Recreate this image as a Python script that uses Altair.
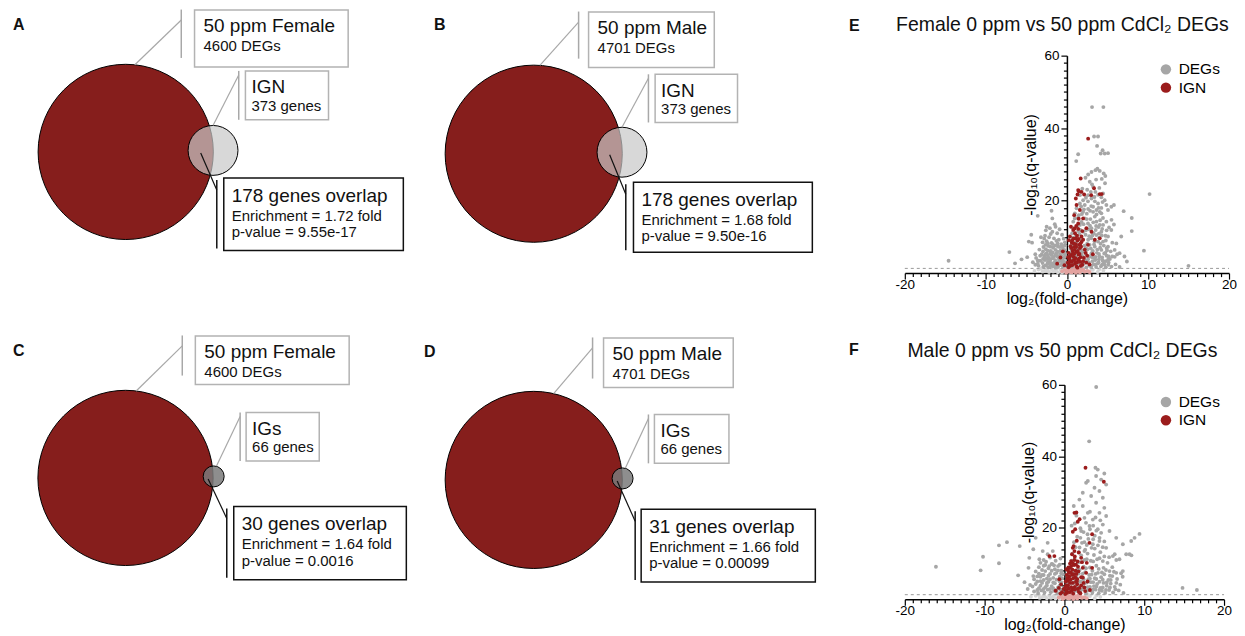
import math
import pandas as pd
import altair as alt

FONT = "Liberation Sans"

# ---------------- Venn data ----------------
panel_labels = ["A", "B", "C", "D"]
deg_set_names = ["50 ppm Female", "50 ppm Male", "50 ppm Female", "50 ppm Male"]
deg_counts = [4600, 4701, 4600, 4701]
gene_set_names = ["IGN", "IGN", "IGs", "IGs"]
gene_set_counts = [373, 373, 66, 66]
overlap_counts = [178, 178, 30, 31]
enrichment_fold = ["1.72", "1.68", "1.64", "1.66"]
p_values = ["9.55e-17", "9.50e-16", "0.0016", "0.00099"]

# ---------------- Volcano data ----------------
volcano_labels = ["E", "F"]
volcano_titles = ["Female 0 ppm vs 50 ppm CdCl\u2082 DEGs", "Male 0 ppm vs 50 ppm CdCl\u2082 DEGs"]
legend_names = ["DEGs", "IGN"]

E_DEG = [(-14.6,3.4),(-7.1,5.8),(-6.4,2.7),(-5.6,3.8),(-4.9,4.4),(-3.9,5.2),(-4.7,8.7),(-4.4,10.6),(-3.6,15.8),(-1.9,17.2),(-1.8,15.1),(-2.1,12.4),(-1.4,12.8),(-1.8,11.4),(-4.3,8.4),
 (-2.8,9.5),(-2.5,8.8),(-2.2,9.9),(-1.9,8.3),(-1.6,9.6),(-1.3,8.9),(-1.0,9.2),(-0.7,8.0),(-0.4,9.5),(-2.9,7.2),(-2.6,6.6),(-2.3,7.5),(-2.0,6.1),(-1.7,7.0),(-1.4,6.4),(-1.1,7.3),(-0.8,6.2),(-0.5,6.9),(-0.2,7.6),(-3.1,5.2),(-2.8,4.6),(-2.5,5.5),(-2.2,4.2),(-1.9,5.0),(-1.6,4.5),(-1.3,5.4),(-1.0,4.0),(-0.7,4.8),(-0.4,5.6),(-3.3,3.4),(-3.0,2.8),(-2.7,3.6),(-2.4,2.5),(-2.1,3.2),(-1.8,2.2),(-1.5,3.0),(-1.2,2.4),(-0.9,3.3),(-0.6,2.6),(-0.3,3.1),(-3.5,2.0),(-2.9,1.8),(-2.3,1.6),(-1.7,1.9),(-1.1,1.7),(-0.5,1.8),(-2.6,11.8),(-1.2,11.0),(-0.6,10.6),(-2.0,10.8),(-3.4,6.5),(-3.8,4.2),(-4.2,3.0),(-2.5,12.8),(-1.5,13.5),(-3.0,8.5),(-2.7,10.3),(-0.9,12.1),(-3.6,2.6),(-2.0,2.6),(-1.4,1.5),(-0.2,2.4),(-0.3,4.4),(-3.2,9.9),(-2.4,3.9),(-1.6,2.8),
 (-2.65,2.1),(-2.35,3.0),(-2.05,1.9),(-1.75,2.6),(-1.45,2.1),(-1.15,3.0),(-0.85,2.2),(-0.55,3.4),(-0.25,2.0),(-2.95,3.9),(-2.65,4.2),(-2.35,4.8),(-2.05,3.7),(-1.75,4.1),(-1.45,3.6),(-1.15,4.6),(-0.85,4.2),(-0.55,4.0),(-0.25,5.1),(-2.95,6.0),(-2.65,5.2),(-2.35,6.2),(-2.05,5.4),(-1.75,5.7),(-1.45,5.0),(-1.15,5.9),(-0.85,5.3),(-0.55,5.8),(-0.25,6.3),(-2.65,7.8),(-2.35,8.2),(-2.05,7.3),(-1.75,8.0),(-1.45,7.6),(-1.15,8.2),(-0.85,7.2),(-0.55,7.6),(-0.25,8.5),(-3.3,4.8),(-3.6,3.5),(-3.9,2.3),
 (0.3,2.0),(0.6,1.8),(0.9,2.5),(1.2,1.7),(1.5,2.8),(1.8,1.9),(2.1,2.6),(2.4,1.6),(2.7,2.9),(3.0,1.8),(3.3,2.4),(3.6,1.7),(3.9,3.0),(4.2,1.9),(4.5,2.6),(4.8,1.6),(5.1,2.3),(5.5,1.8),(6.0,2.4),(6.5,1.7),(0.5,3.5),(1.0,4.2),(1.4,3.9),(2.6,3.8),(3.1,4.4),(3.5,3.6),(4.0,4.6),(4.4,3.5),(4.9,4.8),(5.3,3.9),(5.9,4.5),(0.8,5.9),(1.3,6.5),(1.9,5.8),(2.3,6.9),(2.8,7.8),(3.2,6.1),(3.7,5.6),(4.1,7.0),(4.6,5.4),(5.4,6.0),(6.2,5.2),(0.6,7.8),(1.1,8.5),(1.7,9.4),(2.5,8.1),(3.0,9.6),(3.4,8.8),(4.0,9.8),(4.8,9.0),(5.6,8.4),(1.4,11.6),(2.3,10.6),(2.7,12.1),(3.3,11.0),(3.9,12.7),(4.3,10.4),(4.9,11.8),(1.8,14.1),(2.9,14.9),(3.6,13.0),(4.1,14.6),(5.2,12.6),(2.1,17.6),(3.0,18.5),(3.9,18.0),(4.4,19.6),(2.6,19.8),(3.4,21.0),(4.0,23.5),(4.7,24.8),(3.1,24.5),(2.5,23.0),(4.3,26.0),(3.6,25.8),(1.6,21.5),(1.9,23.3),
 (0.35,2.6),(0.75,3.0),(1.15,2.2),(1.55,3.3),(1.95,2.3),(2.35,3.4),(2.75,2.3),(3.15,3.3),(3.55,2.4),(3.95,3.8),(4.35,2.4),(4.75,3.3),(5.15,2.9),(0.35,4.9),(0.75,5.2),(1.15,4.8),(1.55,5.5),(1.95,4.6),(2.35,5.3),(2.75,4.6),(3.15,5.0),(3.55,4.5),(3.95,5.3),(4.35,4.3),(4.75,5.6),(5.15,4.6),(0.55,6.6),(0.95,7.3),(1.35,7.6),(1.75,6.4),(2.15,7.6),(2.55,6.6),(2.95,6.8),(3.35,7.9),(3.75,6.5),(4.15,8.1),(4.55,7.6),(4.95,6.3),(0.75,9.8),(1.15,10.4),(1.55,10.8),(1.95,9.3),(2.35,11.8),(2.75,10.2),(3.15,10.4),(3.55,11.9),(3.95,10.9),(4.35,12.2),(4.75,10.3),(1.25,12.8),(1.65,11.9),(2.05,13.5),(2.45,14.9),(2.85,13.1),(3.25,14.0),(3.65,16.2),(4.05,13.3),(4.45,15.2),(1.35,15.2),(1.85,16.3),(2.45,16.4),(2.85,17.2),(3.65,17.4),(4.25,18.0),(3.45,19.8),(2.35,20.8),(3.85,21.6),(4.25,20.9),(2.95,22.4),(1.75,18.4),
 (2.82,25.2),(3.23,23.8),(3.52,22.4),(2.62,21.5),(3.03,20.6),(4.46,22.0),(4.66,20.1),(3.84,19.2),(3.23,18.3),(2.62,17.7),(2.0,16.9),(1.47,16.0),(0.98,15.1),(0.78,14.2),(2.2,15.1),(3.44,15.6),(4.25,16.5),(4.87,14.2),(5.48,11.9),(5.07,10.1),(4.25,11.4),(3.03,12.4),(2.0,11.4),(1.19,10.1),(0.57,8.7),(2.62,9.2),(3.84,8.7),(5.07,7.3),(5.89,6.4),(6.5,5.5),(7.1,4.6),(4.25,6.4),(3.03,5.5),(1.8,5.0),(0.78,4.1),(3.44,4.1),(5.07,3.7),(2.2,3.2),(3.84,2.7),(1.19,2.3),(2.82,2.1),(4.66,2.3),(1.6,7.3),(2.4,6.4),(3.44,7.3),(4.46,8.7),(3.64,10.5),(2.6,13.7),(1.6,13.3),(3.64,14.2),(4.46,13.3),(5.07,17.4),(5.48,18.3),(4.87,18.8),(4.05,16.9),(3.23,16.9),(2.2,18.8),(2.0,20.1),(1.6,19.2),(1.19,17.9),(0.98,16.5),(0.78,12.4),(0.65,11.0),(0.49,6.9),(0.45,5.5),(0.4,4.6),(0.37,3.2),
 (3.1,45.8),(4.5,45.8),(3.35,37.7),(3.84,37.7),(3.72,35.1),(1.39,32.8),(4.17,33.0),(4.66,33.0),(5.07,33.1),(4.4,33.9),(1.15,30.9),(2.29,26.3),(2.62,27.2),(3.03,27.9),(3.52,28.4),(4.05,28.2),(4.54,27.5),(4.74,26.8),(3.76,28.8),
 (15.0,2.0),(10.2,21.8),(9.5,6.2),(8.0,15.2),(8.0,11.6),(7.0,17.1),(5.8,18.8),(5.5,14.7),(6.7,10.1),(5.6,4.6),(4.9,6.9),(7.4,3.2),(6.1,8.2),(5.8,13.4)]

E_IGN = [(2.62,37.1),(1.8,22.4),(1.47,22.6),(1.31,21.7),(2.13,21.7),(1.1,20.6),(4.05,21.8),(4.29,21.8),(3.35,23.4),(1.7,26.1),(1.39,22.9),(3.0,21.5),(1.19,18.8),(1.6,17.4),(0.9,16.0),(2.0,15.1),(1.39,13.7),(2.4,12.4),(0.78,11.9),(3.03,11.4),(3.44,9.2),(1.8,10.1),(4.05,9.6),(0.37,10.1),
 (0.4,2.0),(0.6,3.1),(0.8,4.5),(1.0,2.6),(1.2,5.8),(1.4,3.6),(1.6,6.9),(1.1,8.0),(0.7,6.1),(0.9,7.2),(1.3,9.0),(1.7,4.4),(1.9,2.3),(0.5,5.0),(1.5,7.8),(0.3,3.8),(1.8,8.6),(2.2,6.5),(2.5,4.8),(2.0,3.3),(0.8,9.5),(1.2,1.8),(0.2,1.6),(2.8,2.4),(-0.3,2.2),(-0.8,4.3),(-1.2,2.6),(-0.5,6.0),(1.0,11.0),(1.4,12.2),(2.6,7.8),(3.2,5.2),(0.6,8.4),(1.5,4.0),(1.1,3.1),(0.5,12.8),(0.9,5.3),(1.3,1.5),(0.2,5.6),(1.7,2.0),
 (0.25,2.5),(0.45,3.3),(0.65,2.2),(0.85,3.6),(1.05,4.1),(1.25,2.9),(1.45,5.1),(1.65,3.1),(0.35,4.6),(0.55,6.9),(0.75,5.4),(0.95,6.4),(1.15,7.2),(1.35,6.1),(1.55,5.3),(1.75,7.3),(0.45,7.4),(0.65,9.0),(0.85,8.2),(1.05,9.6),(1.25,10.3),(1.45,9.4),(1.65,8.1),(0.95,12.3),(1.15,13.0),(0.25,9.1),(0.15,4.4),(0.1,2.9),(2.1,4.2),(2.3,5.6),(2.4,2.9),(2.0,9.2),(1.9,11.6),(1.45,15.0)]

E_NS = [(-4.0,0.6),(-3.5,1.0),(-3.0,0.4),(-2.6,0.9),(-2.2,0.3),(-1.9,1.1),(-1.5,0.6),(-1.1,0.2),(-0.8,0.9),(-0.4,0.5),(0.0,1.0),(0.5,0.2),(1.2,0.6),(2.0,1.1),(2.6,0.5),(3.2,0.9),(3.8,0.3),(4.5,0.7),(-3.2,1.2),(-2.4,0.7),(-1.3,1.0),(-0.6,0.1),(3.0,1.2),(4.0,1.1),(-1.7,0.4),(-2.8,0.6)]

E_NS_IGN = [(-0.6,0.5),(-0.3,0.9),(0.0,0.3),(0.2,0.7),(0.4,1.0),(0.6,0.2),(0.8,0.6),(1.0,0.9),(1.2,0.4),(1.4,0.8),(1.6,0.2),(1.8,0.7),(2.0,1.0),(2.2,0.4),(2.5,0.6),(0.1,1.2),(0.9,1.2),(1.5,0.5),(-0.1,0.1),(0.7,0.9),(2.8,0.3),(1.1,0.1),(0.3,0.4),(1.7,1.1)]

F_DEG = [(-16.1,9.1),(-10.5,8.1),(-10.2,11.9),(-8.2,10.1),(-8.2,15.1),(-7.2,16.0),(-5.6,14.9),(-5.8,6.7),(-4.5,8.8),(-4.4,11.6),(-3.9,14.0),(-3.6,17.2),(-2.1,15.8),(-2.1,12.6),(-1.5,9.8),(-2.72,13.5),(-3.14,11.2),(-3.0,10.2),(-2.6,11.0),(-1.46,13.5),
 (-3.6,7.8),(-3.2,9.0),(-2.8,8.2),(-2.4,9.6),(-2.0,8.7),(-1.6,9.9),(-1.2,8.4),(-0.8,9.3),(-0.4,8.0),(-3.8,5.6),(-3.4,6.4),(-3.0,5.1),(-2.6,6.8),(-2.2,5.8),(-1.8,7.1),(-1.4,6.0),(-1.0,7.4),(-0.6,6.3),(-0.2,7.0),(-4.0,3.6),(-3.6,4.3),(-3.2,3.1),(-2.8,4.6),(-2.4,3.4),(-2.0,4.9),(-1.6,3.7),(-1.2,4.5),(-0.8,3.3),(-0.4,4.8),(-3.8,2.2),(-3.3,1.8),(-2.9,2.5),(-2.5,1.9),(-2.1,2.7),(-1.7,2.0),(-1.3,2.4),(-0.9,1.8),(-0.5,2.6),(-0.2,1.9),(-4.6,2.9),(-5.0,4.8),(-2.3,10.5),(-1.1,10.8),(-0.5,11.4),(-1.8,11.7),
 (-3.4,2.6),(-3.0,3.8),(-2.6,2.9),(-2.2,3.9),(-1.8,2.9),(-1.4,3.1),(-1.0,2.6),(-0.6,3.8),(-0.3,2.7),(-3.4,5.0),(-3.0,6.3),(-2.6,5.4),(-2.2,4.6),(-1.8,5.6),(-1.4,4.7),(-1.0,5.5),(-0.6,5.0),(-0.3,5.9),(-3.2,7.2),(-2.8,6.8),(-2.4,7.9),(-2.0,6.6),(-1.6,8.0),(-1.2,7.1),(-0.8,8.1),(-0.4,7.3),(-2.6,9.4),(-1.9,9.3),(-1.3,9.5),(-0.6,9.7),(-4.3,4.0),(-3.9,6.5),
 (0.3,2.0),(0.7,2.6),(1.1,1.7),(1.5,2.4),(1.9,1.8),(2.3,2.8),(2.7,1.6),(3.1,2.5),(3.5,1.9),(3.9,2.7),(4.3,1.7),(4.7,2.4),(5.1,1.8),(5.6,2.6),(6.1,1.9),(6.8,2.5),(7.4,1.8),
 (0.5,3.6),(0.9,4.4),(1.3,3.3),(1.7,4.7),(2.1,3.9),(2.5,4.5),(2.9,3.4),(3.3,4.8),(3.7,3.7),(4.1,4.3),(4.5,3.2),(4.9,4.6),(5.3,3.8),(5.8,4.4),(6.3,3.5),(7.0,4.1),
 (0.6,5.8),(1.0,6.6),(1.4,5.3),(1.8,7.2),(2.2,6.1),(2.6,7.6),(3.0,5.6),(3.4,6.9),(3.8,5.9),(4.2,7.4),(4.6,6.2),(5.0,7.0),(5.5,5.4),(6.0,6.5),(6.6,5.7),(7.3,6.3),
 (0.8,8.6),(1.2,9.8),(1.6,8.3),(2.0,10.4),(2.4,9.1),(2.8,11.2),(3.2,8.9),(3.6,10.6),(4.0,9.4),(4.4,11.5),(4.9,8.8),(5.4,10.2),(6.0,9.0),(6.5,11.0),
 (1.0,12.8),(1.4,14.6),(1.8,13.2),(2.2,15.8),(2.6,13.9),(3.0,16.9),(3.4,14.4),(3.8,17.8),(4.2,15.1),(4.6,18.6),(5.0,16.2),(1.6,17.5),(2.4,18.8),(3.2,19.6),(4.0,19.2),(2.0,19.9),(1.2,16.0),(1.3,21.2),(1.5,23.4),(0.9,20.6),
 (0.4,2.9),(0.8,3.2),(1.2,2.3),(1.6,3.4),(2.0,2.4),(2.4,3.5),(2.8,2.4),(3.2,3.5),(3.6,2.8),(4.0,3.6),(4.4,2.6),(4.8,3.3),(5.2,2.6),(5.7,3.3),(6.4,2.8),(0.4,4.7),(0.8,5.3),(1.2,4.6),(1.6,5.8),(2.0,5.0),(2.4,5.6),(2.8,4.7),(3.2,5.8),(3.6,4.8),(4.0,5.7),(4.4,4.9),(4.8,5.5),(5.3,4.7),(5.8,5.4),(6.5,4.6),(0.7,7.2),(1.1,7.8),(1.5,6.5),(1.9,8.2),(2.3,7.2),(2.7,8.7),(3.1,6.8),(3.5,8.0),(3.9,7.1),(4.3,8.5),(4.7,7.5),(5.2,8.2),(5.7,6.6),(6.2,7.7),(0.9,10.8),(1.3,11.2),(1.7,10.3),(2.1,12.3),(2.5,11.0),(2.9,12.8),(3.3,10.8),(3.7,12.4),(4.1,11.2),(4.5,13.2),(5.0,12.0),(5.6,11.8),(1.9,14.5),(2.5,16.0),(2.8,15.2),(3.6,16.8),(4.4,17.2),(3.8,14.2),(4.8,14.6),(2.9,18.2),(3.6,20.6),(2.7,21.4),(3.9,22.9),(4.5,22.1),(3.2,24.5),(2.0,17.2),
 (3.89,36.8),(4.18,36.3),(5.0,35.2),(3.97,34.5),(4.6,33.5),(2.93,33.1),(2.72,32.6),(5.23,32.1),(3.77,31.2),(4.39,30.3),(2.3,29.8),(3.35,28.9),(4.81,28.4),(1.88,27.9),(3.97,27.0),(5.0,25.6),(2.3,26.1),(1.17,26.1),(2.93,24.2),(4.39,24.2),(2.51,22.8),(3.56,22.3),(5.23,23.3),(4.81,20.9),(3.14,20.5),(4.18,19.6),(2.1,19.1),(5.65,19.1),(6.49,17.2),(9.41,18.3),(8.79,17.2),(8.37,16.3),(7.32,15.4),(7.74,12.6),(6.9,11.2),(6.07,12.1),(5.23,14.4),(4.39,16.3),(3.56,15.4),(2.51,13.5),(4.81,10.7),(5.65,7.9),(6.49,7.4),(7.32,7.9),(8.16,12.6),
 (8.4,12.3),(6.3,12.6),(7.1,7.3),(14.8,3.2),(16.6,2.6),(3.98,59.4),(3.1,44.2)]

F_IGN = [(2.64,36.8),(4.94,32.9),(1.26,24.2),(1.5,24.3),(1.67,21.7),(1.9,22.4),(1.05,18.9),(3.47,18.2),(3.14,15.8),(1.05,14.4),(-1.88,12.1),(-1.26,12.1),(1.26,13.5),(2.1,11.6),(0.84,10.7),(3.47,8.8),(2.72,7.4),(-0.63,5.6),(-0.42,4.2),
 (0.3,1.8),(0.5,3.0),(0.7,4.6),(0.9,2.4),(1.1,5.9),(1.3,3.5),(1.5,7.1),(1.0,8.3),(0.6,6.4),(0.8,7.6),(1.2,9.6),(1.6,4.2),(1.8,2.1),(0.4,5.2),(1.4,8.0),(0.2,3.9),(1.7,9.1),(2.1,6.2),(2.4,4.6),(1.9,3.2),(0.7,10.0),(1.1,1.6),(0.1,1.5),(2.6,2.3),(-0.3,2.0),(-0.7,3.2),(-1.1,2.4),(-0.5,1.6),(1.3,12.0),(2.3,8.8),(2.9,5.0),(0.5,8.9),(1.6,5.6),(1.0,3.0),(3.2,2.6),(2.0,1.7),(-0.1,2.9),(0.3,6.8),(2.8,10.2),
 (0.25,2.4),(0.45,3.9),(0.65,2.0),(0.85,3.4),(1.05,4.6),(1.25,2.7),(1.45,4.9),(1.65,2.9),(0.35,5.9),(0.55,7.4),(0.75,5.5),(0.95,6.9),(1.15,7.0),(1.35,6.2),(1.55,5.0),(1.75,7.8),(0.45,8.1),(0.65,8.8),(0.85,9.3),(1.05,10.1),(1.25,11.0),(1.45,9.7),(1.65,10.6),(0.95,12.6),(1.15,14.9),(0.25,8.4),(0.15,5.0),(0.1,3.3),(2.1,3.9),(2.3,6.1),(2.5,3.3),(2.2,10.4),(1.8,13.1),(1.55,16.4),(1.35,19.6)]

F_NS = [(-4.2,0.7),(-3.6,1.0),(-3.1,0.4),(-2.6,0.9),(-2.2,0.3),(-1.9,1.1),(-1.5,0.6),(-1.1,0.2),(-0.8,0.9),(-0.4,0.5),(0.0,1.0),(0.5,0.2),(1.2,0.6),(2.0,1.1),(2.6,0.5),(3.2,0.9),(3.8,0.3),(4.5,0.7),(-3.2,1.2),(-2.4,0.7),(-1.3,1.0),(-0.6,0.1),(3.0,1.2),(4.0,1.1),(-1.7,0.4),(-2.8,0.6)]

F_NS_IGN = [(-0.7,0.5),(-0.4,0.9),(-0.1,0.3),(0.2,0.7),(0.4,1.0),(0.6,0.2),(0.8,0.6),(1.0,0.9),(1.2,0.4),(1.4,0.8),(1.6,0.2),(1.8,0.7),(2.0,1.0),(2.2,0.4),(2.5,0.6),(0.1,1.2),(0.9,1.2),(1.5,0.5),(-0.2,0.1),(0.7,0.9),(2.8,0.3),(1.1,0.1),(0.3,0.4),(1.7,1.1)]

Q_THRESHOLD = 1.3  # -log10(0.05)

# ---------------- layout (page pixels) ----------------
VW, VH = 899, 600
venn_centres = [(126, 149.5), (535, 151.3), (125.8, 476.3), (535, 478.3)]
title_boxes = [(69, 223, -142.2, -85.2, 55.7), (55, 181, -142, -86.3, 45),
               (70, 224.2, -142.3, -93.6, 56.9), (70, 200, -142.3, -92.6, 59)]
set_boxes = [(120, 203.3, -81.2, -32.2, 113.3), (121.7, 204.3, -79.6, -31.3, 115),
             (120.9, 194.2, -65.6, -17, 114.9), (121, 195.7, -65.6, -16.6, 115)]
overlap_boxes = [(98.3, 278.3, 26.2, 98.8, 91.3), (100, 279.3, 28.7, 98.7, 92.3),
                 (108.5, 281.5, 28.7, 102, 101.5), (107.7, 282.3, 29.4, 102.4, 101.7)]
title_leader_deg = [6, 4, 7, 13]
set_leader_deg = [0, 0, 15, 15]
letter_pos = [(13, 27.5), (435, 27.5), (13, 354), (425, 355), (851, 28), (851, 353)]
vtitle_pos = [(1065, 28.3), (1065, 355.5)]

RED_BIG = "#861e1c"
SMALL_FILL = ["#c8c8c8", "#c8c8c8", "#7a7a7a", "#7a7a7a"]
SMALL_OPAC = [0.7, 0.7, 0.85, 0.85]
BOX_GRAY = "#b3b3b3"
LINE_GRAY = "#a8a8a8"
INK = "#111111"
DEG_GRAY = "#a6a6a6"
IGN_RED = "#9b1c1c"
NS_GRAY = "#d4d4d4"
NS_PINK = "#e3a3a0"

K = math.pi * 88.3 ** 2 / 4650.0


def radius(n):
    return math.sqrt(n * K / math.pi)


def lens_area(d, r1, r2):
    a1 = r1 * r1 * math.acos((d * d + r1 * r1 - r2 * r2) / (2 * d * r1))
    a2 = r2 * r2 * math.acos((d * d + r2 * r2 - r1 * r1) / (2 * d * r2))
    a3 = 0.5 * math.sqrt((-d + r1 + r2) * (d + r1 - r2) * (d - r1 + r2) * (d + r1 + r2))
    return a1 + a2 - a3


def solve_distance(r1, r2, area):
    lo, hi = r1 - r2 + 1e-6, r1 + r2 - 1e-6
    for _ in range(80):
        mid = (lo + hi) / 2
        if lens_area(mid, r1, r2) > area:
            lo = mid
        else:
            hi = mid
    return (lo + hi) / 2


circles, rects, lines, texts, bolds = [], [], [], [], []
for i in range(4):
    cx, cy = venn_centres[i]
    r1, r2 = radius(deg_counts[i]), radius(gene_set_counts[i])
    d = solve_distance(r1, r2, overlap_counts[i] * K)
    sx, sy = cx + d, cy - 1.5
    circles.append(dict(x=cx, y=cy, s=(2 * r1) ** 2, fill=RED_BIG, fo=1.0))
    circles.append(dict(x=sx, y=sy, s=(2 * r2) ** 2, fill=SMALL_FILL[i], fo=SMALL_OPAC[i]))

    x0, x1, y0, y1, bx = title_boxes[i]
    rects.append(dict(x=cx + x0, x2=cx + x1, y=cy + y0, y2=cy + y1, col=BOX_GRAY))
    lines.append(dict(x=cx + bx, y=cy + y0 - 0.5, x2=cx + bx, y2=cy + y1 - 9, col=LINE_GRAY, w=1.5))
    th = math.radians(title_leader_deg[i])
    lines.append(dict(x=cx + r1 * math.sin(th), y=cy - r1 * math.cos(th), x2=cx + bx, y2=cy + y0 + 10, col=LINE_GRAY, w=1.2))
    texts.append(dict(x=cx + x0 + 9, y=cy + y0 + 22, t=deg_set_names[i], fs=19))
    texts.append(dict(x=cx + x0 + 9, y=cy + y0 + 41, t=f"{deg_counts[i]} DEGs", fs=15))

    x0, x1, y0, y1, bx = set_boxes[i]
    rects.append(dict(x=cx + x0, x2=cx + x1, y=cy + y0, y2=cy + y1, col=BOX_GRAY))
    lines.append(dict(x=cx + bx, y=cy + y0, x2=cx + bx, y2=cy + y1, col=LINE_GRAY, w=1.5))
    th = math.radians(set_leader_deg[i])
    lines.append(dict(x=sx + r2 * math.sin(th), y=sy - r2 * math.cos(th), x2=cx + bx, y2=cy + y0 + 4, col=LINE_GRAY, w=1.2))
    texts.append(dict(x=cx + x0 + 6, y=cy + y0 + 22.4, t=gene_set_names[i], fs=19))
    texts.append(dict(x=cx + x0 + 6, y=cy + y0 + 40, t=f"{gene_set_counts[i]} genes", fs=15))

    x0, x1, y0, y1, bx = overlap_boxes[i]
    rects.append(dict(x=cx + x0, x2=cx + x1, y=cy + y0, y2=cy + y1, col=INK))
    lines.append(dict(x=cx + bx, y=cy + y0 + 2, x2=cx + bx, y2=cy + y1 - 2, col=INK, w=1.5))
    lx = ((cx + r1) + (sx - r2)) / 2
    lines.append(dict(x=lx, y=cy + 1, x2=cx + bx, y2=cy + y0 + 12, col=INK, w=1.2))
    texts.append(dict(x=cx + x0 + 8, y=cy + y0 + 23.6, t=f"{overlap_counts[i]} genes overlap", fs=19))
    texts.append(dict(x=cx + x0 + 8, y=cy + y0 + 42.6, t=f"Enrichment = {enrichment_fold[i]} fold", fs=15))
    texts.append(dict(x=cx + x0 + 8, y=cy + y0 + 59.3, t=f"p-value = {p_values[i]}", fs=15))

for lab, (lx, ly) in zip(panel_labels + volcano_labels, letter_pos):
    bolds.append(dict(x=lx, y=ly, t=lab))
vtitles = [dict(x=px, y=py, t=t) for t, (px, py) in zip(volcano_titles, vtitle_pos)]

XS = alt.Scale(domain=[8, 8 + VW], nice=False, zero=False)
YS = alt.Scale(domain=[8, 8 + VH], nice=False, zero=False, reverse=True)
PX = alt.X("x:Q", scale=XS, axis=None)
PY = alt.Y("y:Q", scale=YS, axis=None)

c_layer = alt.Chart(pd.DataFrame(circles)).mark_circle(opacity=1, stroke="black", strokeWidth=1, strokeOpacity=1).encode(
    x=PX, y=PY, size=alt.Size("s:Q", scale=None), color=alt.Color("fill:N", scale=None),
    fillOpacity=alt.FillOpacity("fo:Q", scale=None))
r_layer = alt.Chart(pd.DataFrame(rects)).mark_rect(fillOpacity=0, strokeWidth=1.5).encode(
    x=PX, x2="x2:Q", y=PY, y2="y2:Q", stroke=alt.Stroke("col:N", scale=None))
l_layer = alt.Chart(pd.DataFrame(lines)).mark_rule().encode(
    x=PX, x2="x2:Q", y=PY, y2="y2:Q", stroke=alt.Stroke("col:N", scale=None),
    strokeWidth=alt.StrokeWidth("w:Q", scale=None))
t_layer = alt.Chart(pd.DataFrame(texts)).mark_text(align="left", baseline="alphabetic", font=FONT, color=INK).encode(
    x=PX, y=PY, text="t:N", size=alt.Size("fs:Q", scale=None))
b_layer = alt.Chart(pd.DataFrame(bolds)).mark_text(align="left", baseline="alphabetic", font=FONT, fontWeight="bold",
                                                   size=16, color=INK).encode(x=PX, y=PY, text="t:N")
vt_layer = alt.Chart(pd.DataFrame(vtitles)).mark_text(align="center", baseline="alphabetic", font=FONT, size=19.5,
                                                      color=INK).encode(x=PX, y=PY, text="t:N")

canvas = alt.layer(c_layer, l_layer, r_layer, t_layer, b_layer, vt_layer).properties(width=VW, height=VH)


def pts(lst, grp=None):
    df = pd.DataFrame(lst, columns=["x", "y"])
    if grp is not None:
        df["grp"] = grp
    return df


PT = 15


def volcano(deg, ign, ns, ns_ign, w, h, ly):
    xs = alt.Scale(domain=[-20, 20], nice=False, zero=False)
    ys = alt.Scale(domain=[0, 60], nice=False, zero=False)
    common = dict(grid=False, domainColor="black", domainWidth=1.5, tickColor="black", tickWidth=1.2,
                  labelFont=FONT, labelFontSize=13.5, labelColor="black", labelOverlap=False, labelFlush=False,
                  titleFont=FONT, titleFontSize=16, titleFontWeight="normal", titleColor="black")
    xaxis = alt.Axis(values=list(range(-20, 21)),
                     labelExpr="datum.value % 10 === 0 ? '' + datum.value : ''",
                     tickSize={"condition": {"test": "datum.value % 10 === 0", "value": 6}, "value": 3.5},
                     labelPadding=-2, titlePadding=0, **common)
    yaxis = alt.Axis(values=list(range(0, 61, 2)),
                     labelExpr="datum.value % 20 === 0 && datum.value > 0 ? '' + datum.value : ''",
                     tickSize={"condition": {"test": "datum.value % 20 === 0", "value": 6}, "value": 3.5},
                     offset=-w / 2, labelPadding=2, titlePadding=5, **common)
    X = alt.X("x:Q", scale=xs, axis=xaxis, title="log\u2082(fold-change)")
    Y = alt.Y("y:Q", scale=ys, axis=yaxis, title="-log\u2081\u2080(q-value)")
    l_ns = alt.Chart(pts(ns)).mark_circle(size=PT, opacity=1, color=NS_GRAY).encode(x=X, y=Y)
    l_nsi = alt.Chart(pts(ns_ign)).mark_circle(size=PT, opacity=1, color=NS_PINK).encode(x=X, y=Y)
    thr = pd.DataFrame({"x": [-20], "x2": [20], "y": [Q_THRESHOLD]})
    l_thr = alt.Chart(thr).mark_rule(color="#9a9a9a", strokeDash=[3, 3], strokeWidth=1).encode(x=X, x2="x2:Q", y=Y)
    sig = pd.concat([pts(deg, legend_names[0]), pts(ign, legend_names[1])], ignore_index=True)
    l_sig = alt.Chart(sig).mark_circle(size=PT, opacity=1).encode(
        x=X, y=Y,
        color=alt.Color("grp:N", scale=alt.Scale(domain=legend_names, range=[DEG_GRAY, IGN_RED]), title=None,
                        legend=alt.Legend(orient="none", legendX=254, legendY=ly, symbolType="circle",
                                          symbolSize=110, symbolStrokeWidth=0, labelFont=FONT, labelFontSize=15.5,
                                          labelColor="black", rowPadding=1.3, padding=0, labelOffset=5)))
    return alt.layer(l_ns, l_thr, l_nsi, l_sig).properties(width=w, height=h)


def spacer(h):
    return alt.Chart(pd.DataFrame({"v": [0]})).mark_point(opacity=0).encode(
        x=alt.X("v:Q", axis=None), y=alt.Y("v:Q", axis=None)).properties(width=300, height=h)


E = volcano(E_DEG, E_IGN, E_NS, E_NS_IGN, 325, 218, 6)
F = volcano(F_DEG, F_IGN, F_NS, F_NS_IGN, 320, 215, 9.5)

right = alt.vconcat(spacer(45), E, spacer(112), F, spacing=0, bounds="flush").resolve_scale(color="independent")
chart = alt.hconcat(canvas, right, spacing=0, bounds="flush").resolve_scale(color="independent").properties(
    padding=0).configure(font=FONT).configure_view(stroke=None)

chart.save("out.html", embed_options={"renderer": "svg", "actions": False})
